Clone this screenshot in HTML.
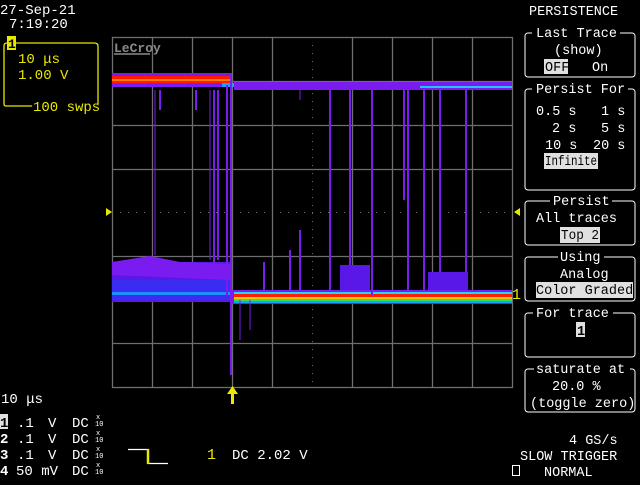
<!DOCTYPE html>
<html><head><style>
body{margin:0;background:#000;width:640px;height:480px;overflow:hidden}
svg text{font-family:"Liberation Mono","DejaVu Sans Mono",monospace;white-space:pre}
</style></head><body>
<svg width="640" height="480" xmlns="http://www.w3.org/2000/svg">
<rect width="640" height="480" fill="#000"/>
<!-- grid -->
<g stroke="#6e6e6e" stroke-width="1.3">
<rect x="112.5" y="37.5" width="400" height="350" fill="none"/>
<line x1="152.5" y1="37" x2="152.5" y2="388"/><line x1="192.5" y1="37" x2="192.5" y2="388"/>
<line x1="232.5" y1="37" x2="232.5" y2="388"/><line x1="272.5" y1="37" x2="272.5" y2="388"/>
<line x1="352.5" y1="37" x2="352.5" y2="388"/><line x1="392.5" y1="37" x2="392.5" y2="388"/>
<line x1="432.5" y1="37" x2="432.5" y2="388"/><line x1="472.5" y1="37" x2="472.5" y2="388"/>
<line x1="112" y1="81.5" x2="512" y2="81.5"/><line x1="112" y1="125.5" x2="512" y2="125.5"/>
<line x1="112" y1="169.5" x2="512" y2="169.5"/><line x1="112" y1="256.5" x2="512" y2="256.5"/>
<line x1="112" y1="300.5" x2="512" y2="300.5"/><line x1="112" y1="343.5" x2="512" y2="343.5"/>
</g>
<g stroke="#6e6e6e" stroke-width="1" stroke-dasharray="1,7">
<line x1="112" y1="212.5" x2="512" y2="212.5"/><line x1="312.5" y1="37" x2="312.5" y2="388"/>
</g>
<text x="114" y="52" fill="#8a8a8a" font-size="13" font-weight="bold">LeCroy</text>
<line x1="114" y1="54" x2="150" y2="54" stroke="#8a8a8a" stroke-width="1.5"/>
<!-- high level before transition -->
<rect x="112" y="73" width="120" height="14" fill="#7a1cf0"/>
<rect x="112" y="76" width="120" height="7" fill="#ff1a00"/>
<rect x="112" y="79" width="120" height="2" fill="#ff8000"/>
<rect x="222" y="83" width="12" height="4" fill="#1aa0ff"/>
<!-- high level after -->
<rect x="234" y="82" width="278" height="8" fill="#7a1cf0"/>
<rect x="420" y="86" width="92" height="2" fill="#1ec8ff"/>
<!-- low region before: smear -->
<rect x="112" y="262" width="120" height="40" fill="#5a18e8"/>
<rect x="112" y="280" width="120" height="20" fill="#3a2cf0"/>
<rect x="112" y="292" width="120" height="3" fill="#1e90ff"/>
<path d="M112 262 L150 256 L180 262 L230 264 L230 280 L112 275Z" fill="#7a1cf0"/>
<!-- low level after -->
<rect x="232" y="290" width="280" height="14" fill="#7a1cf0"/>
<rect x="234" y="292" width="278" height="2" fill="#20d8ff"/>
<rect x="234" y="294" width="278" height="3" fill="#ff2000"/>
<rect x="234" y="297" width="278" height="2" fill="#ffc800"/>
<rect x="234" y="299" width="278" height="2" fill="#30e060"/>
<rect x="234" y="301" width="278" height="2" fill="#1aa0ff"/>
<!-- transition edges and glitches -->
<g stroke="#7a1cf0" stroke-width="2">
<line x1="231" y1="75" x2="231" y2="375"/><line x1="227" y1="85" x2="227" y2="295"/>
<line x1="214" y1="90" x2="214" y2="270"/><line x1="218" y1="90" x2="218" y2="260"/>
<line x1="160" y1="90" x2="160" y2="110"/><line x1="196" y1="90" x2="196" y2="110"/>
<line x1="330" y1="90" x2="330" y2="290"/><line x1="350" y1="90" x2="350" y2="290"/>
<line x1="372" y1="90" x2="372" y2="295"/><line x1="404" y1="90" x2="404" y2="200"/>
<line x1="408" y1="90" x2="408" y2="290"/><line x1="424" y1="90" x2="424" y2="290"/>
<line x1="440" y1="90" x2="440" y2="290"/><line x1="466" y1="90" x2="466" y2="292"/>
<line x1="290" y1="250" x2="290" y2="290"/><line x1="300" y1="230" x2="300" y2="290"/>
<line x1="264" y1="262" x2="264" y2="290"/>
</g>
<g stroke="#7a1cf0" stroke-width="1">
<line x1="155" y1="90" x2="155" y2="255"/><line x1="210" y1="90" x2="210" y2="260"/>
<line x1="240" y1="300" x2="240" y2="340"/><line x1="250" y1="300" x2="250" y2="330"/>
<line x1="300" y1="90" x2="300" y2="100"/>
</g>
<rect x="340" y="265" width="30" height="25" fill="#5a18e8"/>
<rect x="428" y="272" width="40" height="18" fill="#5a18e8"/>
<!-- markers -->
<polygon points="106,208 106,216 112,212" fill="#e8e800"/>
<polygon points="520,208 520,216 514,212" fill="#e8e800"/>
<text x="512" y="299" fill="#e8e800" font-size="15">1</text>
<rect x="231" y="392" width="3" height="12" fill="#e8e800"/>
<polygon points="227,394 238,394 232.5,386" fill="#e8e800"/>
<!-- top-left -->
<text x="0" y="14" fill="#fff" font-size="14">27-Sep-21</text>
<text x="9" y="28" fill="#fff" font-size="14">7:19:20</text>
<path d="M32 106 H6 Q4 106 4 104 V46 Q4 43 7 43 H94 Q98 43 98 46 V104" fill="none" stroke="#e8e800" stroke-width="1.3"/>
<rect x="7" y="36" width="9" height="14" fill="#e8e800"/>
<text x="8" y="48" fill="#000" font-size="13" font-weight="bold">1</text>
<text x="18" y="63" fill="#e8e800" font-size="14">10 μs</text>
<text x="18" y="79" fill="#e8e800" font-size="14">1.00 V</text>
<text x="33" y="111" fill="#e8e800" font-size="14">100 swps</text>
<!-- right menu -->
<g fill="#fff" font-size="13.5">
<text x="529" y="15">PERSISTENCE</text>
<rect x="525" y="33" width="110" height="44" rx="3" fill="none" stroke="#fff"/>
<rect x="532" y="26" width="88" height="12" fill="#000"/>
<text x="536" y="37">Last Trace</text>
<text x="554" y="54">(show)</text>
<rect x="544" y="59" width="24" height="15" fill="#e0e0e0"/>
<text x="545" y="71" fill="#000">OFF</text><text x="592" y="71">On</text>
<rect x="525" y="89" width="110" height="101" rx="3" fill="none" stroke="#fff"/>
<rect x="532" y="82" width="96" height="12" fill="#000"/>
<text x="536" y="93">Persist For</text>
<text x="536" y="115">0.5 s</text><text x="601" y="115">1 s</text>
<text x="552" y="132">2 s</text><text x="601" y="132">5 s</text>
<text x="545" y="149">10 s</text><text x="593" y="149">20 s</text>
<rect x="544" y="153" width="54" height="16" fill="#e0e0e0"/>
<text x="545" y="165" fill="#000" textLength="52" lengthAdjust="spacingAndGlyphs">Infinite</text>
<rect x="525" y="201" width="110" height="44" rx="3" fill="none" stroke="#fff"/>
<rect x="550" y="194" width="62" height="12" fill="#000"/>
<text x="553" y="205">Persist</text>
<text x="536" y="222">All traces</text>
<rect x="560" y="227" width="40" height="16" fill="#e0e0e0"/>
<text x="561" y="239" fill="#000" textLength="38" lengthAdjust="spacingAndGlyphs">Top 2</text>
<rect x="525" y="257" width="110" height="44" rx="3" fill="none" stroke="#fff"/>
<rect x="558" y="250" width="46" height="12" fill="#000"/>
<text x="560" y="261">Using</text>
<text x="560" y="278">Analog</text>
<rect x="536" y="282" width="97" height="16" fill="#e0e0e0"/>
<text x="536" y="294" fill="#000">Color Graded</text>
<rect x="525" y="313" width="110" height="44" rx="3" fill="none" stroke="#fff"/>
<rect x="533" y="306" width="80" height="12" fill="#000"/>
<text x="536" y="317">For trace</text>
<rect x="576" y="322" width="9" height="15" fill="#e0e0e0"/>
<text x="577" y="335" fill="#000" font-weight="bold">1</text>
<rect x="525" y="369" width="110" height="43" rx="3" fill="none" stroke="#fff"/>
<rect x="534" y="362" width="96" height="12" fill="#000"/>
<text x="536" y="373">saturate at</text>
<text x="552" y="390">20.0 %</text>
<text x="530" y="407">(toggle zero)</text>
<text x="569" y="444">4 GS/s</text>
<text x="520" y="460">SLOW TRIGGER</text>
<text x="544" y="476">NORMAL</text>
<rect x="512.5" y="465.5" width="7" height="10" fill="none" stroke="#fff"/>
</g>
<!-- bottom-left -->
<g fill="#fff" font-size="14">
<text x="1" y="403">10 μs</text>
<rect x="0" y="414" width="8" height="15" fill="#e0e0e0"/>
<text x="0" y="427" fill="#000" font-weight="bold">1</text>
<text x="0" y="443" font-weight="bold">2</text>
<text x="0" y="459" font-weight="bold">3</text>
<text x="0" y="475" font-weight="bold">4</text>
<text x="17" y="427">.1</text><text x="48" y="427">V</text><text x="72" y="427">DC</text>
<text x="17" y="443">.1</text><text x="48" y="443">V</text><text x="72" y="443">DC</text>
<text x="17" y="459">.1</text><text x="48" y="459">V</text><text x="72" y="459">DC</text>
<text x="16" y="475">50 mV</text><text x="72" y="475">DC</text>
</g>
<g fill="#fff" font-size="7">
<text x="96" y="419">x</text><text x="95" y="426">10</text>
<text x="96" y="435">x</text><text x="95" y="442">10</text>
<text x="96" y="451">x</text><text x="95" y="458">10</text>
<text x="96" y="467">x</text><text x="95" y="474">10</text>
</g>
<path d="M128 449.5 H148 V463.5 H168" fill="none" stroke="#fff" stroke-width="1.3"/>
<line x1="148" y1="449" x2="148" y2="464" stroke="#e8e800" stroke-width="2.5"/>
<text x="207" y="459" fill="#e8e800" font-size="15">1</text>
<text x="232" y="459" fill="#fff" font-size="14">DC 2.02 V</text>
</svg>
</body></html>
